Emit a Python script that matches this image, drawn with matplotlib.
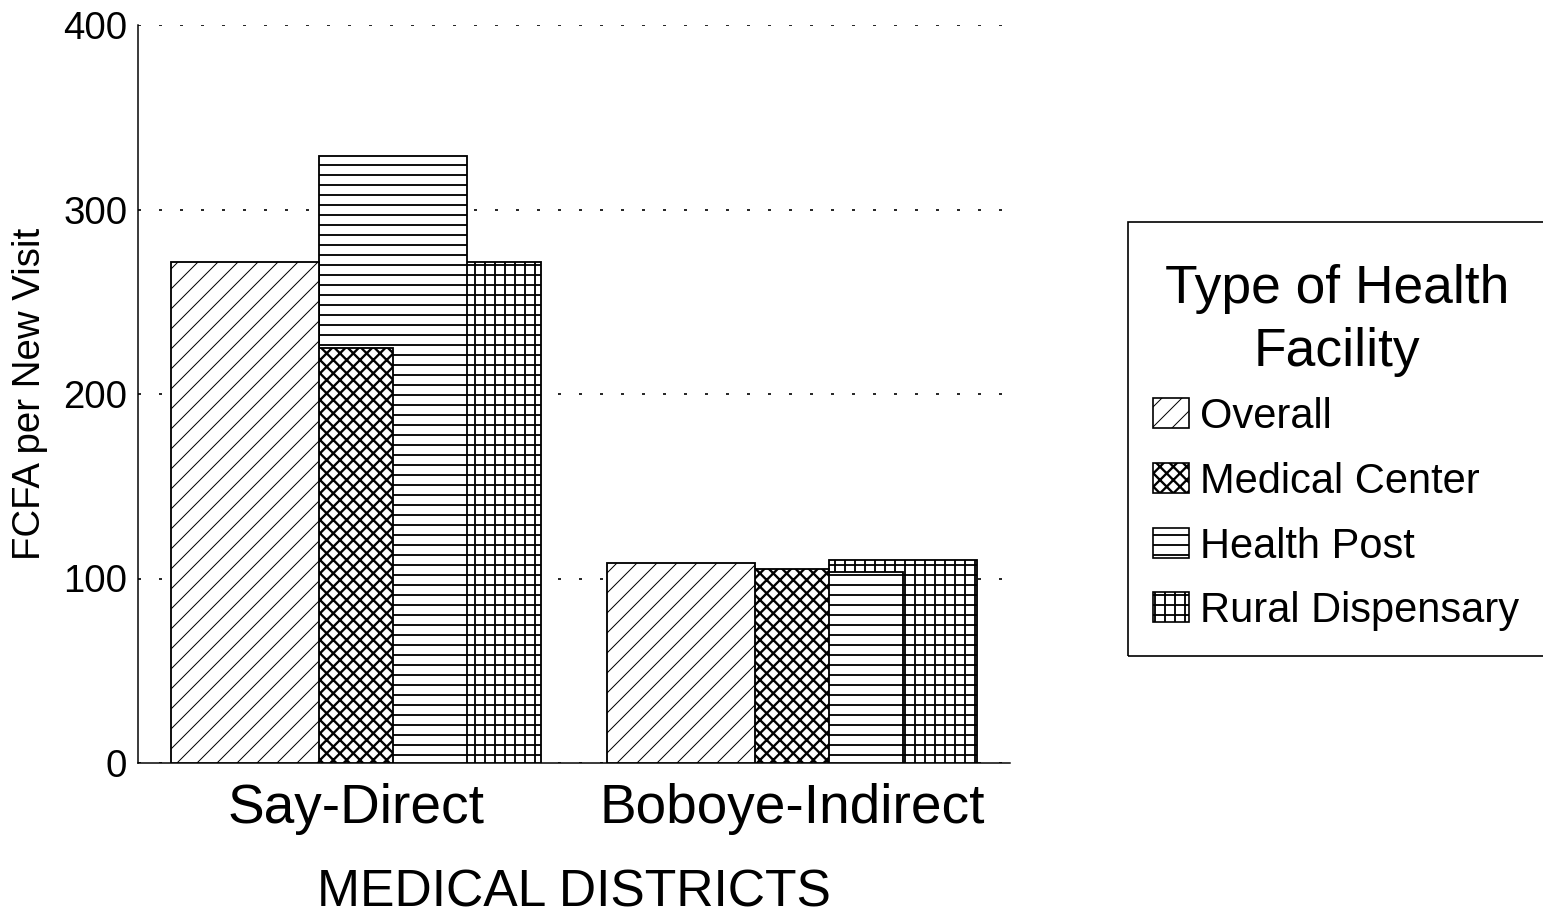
import matplotlib
matplotlib.use("Agg")
import matplotlib.pyplot as plt
from matplotlib.patches import Rectangle
import numpy as np

plt.rcParams['font.family'] = ['Liberation Sans', 'DejaVu Sans']

# ---------------- data ----------------
districts = ["Say-Direct", "Boboye-Indirect"]
facility_types = ["Overall", "Medical Center", "Health Post", "Rural Dispensary"]
overall = [271.5, 108.2]
medical_center = [224.7, 104.9]
health_post = [329.0, 103.4]
rural_dispensary = [271.5, 110.0]
yticks = [0, 100, 200, 300, 400]
legend_title = "Type of Health\nFacility"
y_label = "FCFA per New Visit"
x_label = "MEDICAL DISTRICTS"

series = [overall, medical_center, health_post, rural_dispensary]
hatches = ["//", "xxx", "--", "++"]
hatch_lws = [0.6, 1.4, 1.1, 1.1]

# ---------------- figure ----------------
DPI = 120
W, H = 1543, 917
fig = plt.figure(figsize=(W / DPI, H / DPI), dpi=DPI)
ax = fig.add_axes([138 / W, 1 - 763 / H, (1010 - 138) / W, (763 - 25) / H])


def set_hlw(patch, lw):
    if hasattr(patch, "set_hatch_linewidth"):
        patch.set_hatch_linewidth(lw)


x = np.arange(len(districts))
step = 0.17
width = 2 * step
offsets = [-1.5 * step, -0.5 * step, 0.5 * step, 1.5 * step]
for i, (vals, hatch, off, hlw) in enumerate(zip(series, hatches, offsets, hatch_lws)):
    plt.rcParams['hatch.linewidth'] = hlw
    bars = ax.bar(x + off, vals, width, facecolor='white', edgecolor='black',
                  linewidth=1.1, hatch=hatch, zorder=10 - i, label=facility_types[i])
    for b in bars:
        set_hlw(b, hlw)

ax.set_xlim(-0.5, 1.5)
ax.set_ylim(0, 400)
ax.set_yticks(yticks)
ax.set_yticklabels([str(v) for v in yticks])
ax.set_xticks(x)
ax.set_xticklabels(districts)
ax.yaxis.grid(True, linestyle=(0, (1.8, 10.8)), color='black', linewidth=1.0, zorder=0)
ax.set_axisbelow(True)
for s in ['top', 'right']:
    ax.spines[s].set_visible(False)
for s in ['left', 'bottom']:
    ax.spines[s].set_linewidth(0.9)
ax.tick_params(axis='y', length=0, pad=6.5, labelsize=23)
ax.tick_params(axis='x', length=0, pad=12, labelsize=33)
ax.set_ylabel(y_label, fontsize=23, labelpad=9)
ax.set_xlabel(x_label, fontsize=31, labelpad=20)


# ---------------- legend (drawn manually) ----------------
def fx(px):
    return px / W


def fy(py):
    return 1 - py / H


frame = Rectangle((fx(1128), fy(656)), fx(1570) - fx(1128), fy(222) - fy(656),
                  transform=fig.transFigure, fill=False, edgecolor='black', linewidth=1.0)
fig.add_artist(frame)

title_lines = legend_title.split("\n")
for line, base in zip(title_lines, [303, 366]):
    fig.text(fx(1337), fy(base), line, ha='center', va='baseline', fontsize=32)

entry_centers = [413, 478, 543, 607]
for label, hatch, hlw, yc in zip(facility_types, hatches, hatch_lws, entry_centers):
    plt.rcParams['hatch.linewidth'] = hlw
    r = Rectangle((fx(1153), fy(yc + 15)), fx(1189) - fx(1153), fy(yc - 15) - fy(yc + 15),
                  transform=fig.transFigure, facecolor='white', edgecolor='black',
                  linewidth=1.0, hatch=hatch)
    set_hlw(r, hlw)
    fig.add_artist(r)
    fig.text(fx(1200), fy(yc + 15), label, ha='left', va='baseline', fontsize=25)

fig.savefig("out.png", dpi=DPI)
